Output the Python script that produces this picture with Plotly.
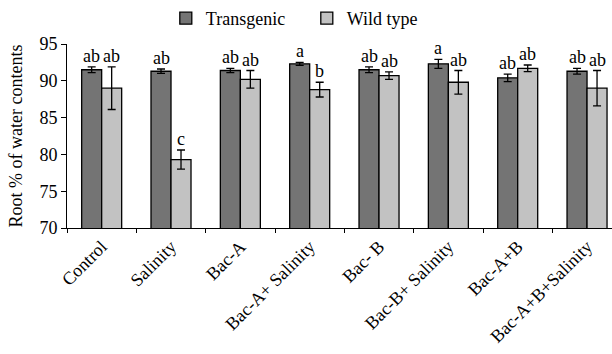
import plotly.graph_objects as go

categories = ["Control", "Salinity", "Bac-A", "Bac-A+ Salinity", "Bac- B",
              "Bac-B+ Salinity", "Bac-A+B", "Bac-A+B+Salinity"]
transgenic = [91.5, 91.3, 91.4, 92.3, 91.5, 92.3, 90.4, 91.3]
transgenic_err = [0.4, 0.3, 0.3, 0.2, 0.4, 0.6, 0.5, 0.4]
wild = [89.0, 79.3, 90.2, 88.8, 90.7, 89.8, 91.7, 89.0]
wild_err = [2.9, 1.3, 1.2, 1.0, 0.5, 1.6, 0.45, 2.4]
transgenic_letters = ["ab", "ab", "ab", "a", "ab", "a", "ab", "ab"]
wild_letters = ["ab", "c", "ab", "b", "ab", "ab", "ab", "ab"]

FONT = "Liberation Serif"
FS = 18
err_style = dict(type="data", thickness=1.3, width=4, color="black")

fig = go.Figure()
fig.add_trace(go.Bar(
    name="Transgenic", x=categories, y=transgenic,
    error_y=dict(array=transgenic_err, **err_style),
    marker=dict(color="#747474", line=dict(color="black", width=1.3)),
))
fig.add_trace(go.Bar(
    name="Wild type", x=categories, y=wild,
    error_y=dict(array=wild_err, **err_style),
    marker=dict(color="#c2c2c2", line=dict(color="black", width=1.3)),
))

annotations = []
for i, c in enumerate(categories):
    annotations.append(dict(x=c, y=transgenic[i] + transgenic_err[i], text=transgenic_letters[i],
                            xshift=-10, yshift=-1, yanchor="bottom", showarrow=False,
                            font=dict(family=FONT, size=FS, color="black")))
    annotations.append(dict(x=c, y=wild[i] + wild_err[i], text=wild_letters[i],
                            xshift=10, yshift=-1, yanchor="bottom", showarrow=False,
                            font=dict(family=FONT, size=FS, color="black")))

fig.update_layout(
    width=612, height=354,
    margin=dict(l=67, r=0, t=38, b=126),
    paper_bgcolor="white", plot_bgcolor="white",
    barmode="group", bargap=0.423, bargroupgap=0,
    font=dict(family=FONT, size=FS, color="black"),
    showlegend=True,
    legend=dict(orientation="h", x=0.44, xanchor="center", y=1.14, yanchor="middle",
                font=dict(family=FONT, size=FS), tracegroupgap=0,
                entrywidth=96, entrywidthmode="pixels"),
    annotations=annotations,
    xaxis=dict(range=[-0.5, 7.36], tickson="boundaries", ticks="outside", ticklen=4,
               tickcolor="black", showline=True, linecolor="black", linewidth=1,
               tickangle=-45, tickfont=dict(family=FONT, size=FS), showgrid=False),
    yaxis=dict(range=[70, 95], dtick=5, ticks="outside", ticklen=5, tickcolor="black",
               showline=True, linecolor="black", linewidth=1, showgrid=False, zeroline=False,
               tickfont=dict(family=FONT, size=FS),
               title=dict(text="Root % of water contents", font=dict(family=FONT, size=FS), standoff=12)),
)

fig.write_html("out.html")
